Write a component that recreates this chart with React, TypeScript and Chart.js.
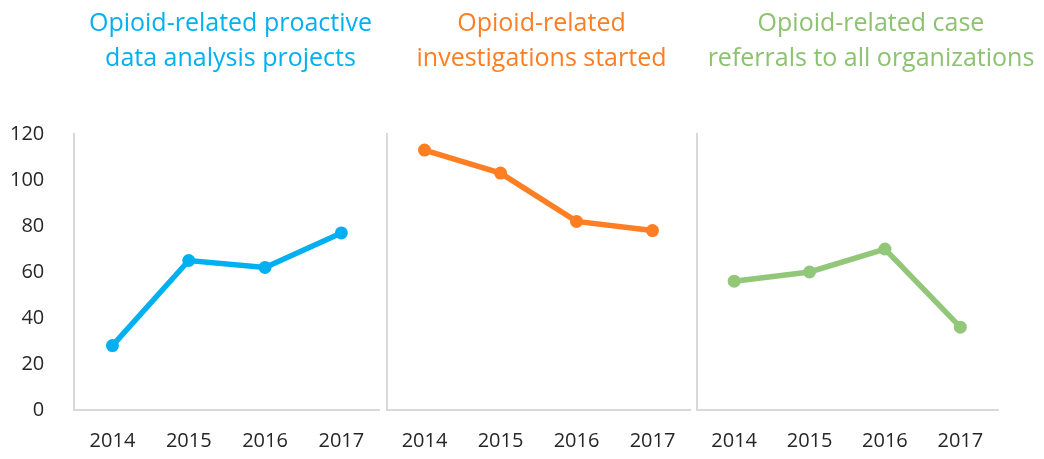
import React, { useEffect, useRef } from "react";
import { Chart, registerables } from "chart.js";

Chart.register(...registerables);

const years = ["2014", "2015", "2016", "2017"];
const proactiveProjects = [28, 65, 62, 77];
const investigationsStarted = [113, 103, 82, 78];
const caseReferrals = [56, 60, 70, 36];
const yMin = 0;
const yMax = 120;
const yStep = 20;

const titleProactive = ["Opioid-related proactive", "data analysis projects"];
const titleInvestigations = ["Opioid-related", "investigations started"];
const titleReferrals = ["Opioid-related case", "referrals to all organizations"];

const FONT = "'Open Sans', 'Segoe UI', sans-serif";
const AXIS_GRAY = "#d9d9d9";
const TEXT = "#262626";
const CANVAS_H = 472;

type PanelProps = {
  left: number;
  width: number;
  values: number[];
  color: string;
  showY: boolean;
  padRight: number;
};

function Panel(p: PanelProps) {
  const ref = useRef<HTMLCanvasElement | null>(null);
  useEffect(() => {
    if (!ref.current) return;
    const chart = new Chart(ref.current, {
      type: "line",
      data: {
        labels: years,
        datasets: [
          {
            data: p.values,
            borderColor: p.color,
            backgroundColor: p.color,
            borderWidth: 5.5,
            pointRadius: 6.5,
            pointBorderWidth: 0,
            pointBackgroundColor: p.color,
            tension: 0,
          },
        ],
      },
      options: {
        responsive: false,
        animation: false,
        layout: { padding: { left: 0, right: p.padRight, bottom: 0, top: 134 } },
        plugins: {
          legend: { display: false },
          tooltip: { enabled: false },
          title: { display: false },
        },
        scales: {
          x: {
            type: "category",
            offset: true,
            grid: { display: false, drawTicks: false },
            border: { display: true, color: AXIS_GRAY, width: 2 },
            ticks: {
              color: TEXT,
              font: { family: FONT, size: 20 },
              padding: 19,
              maxRotation: 0,
              autoSkip: false,
            },
          },
          y: {
            min: yMin,
            max: yMax,
            grid: { display: false, drawTicks: false },
            border: { display: true, color: AXIS_GRAY, width: 2 },
            ticks: {
              display: p.showY,
              stepSize: yStep,
              color: TEXT,
              font: { family: FONT, size: 20 },
              padding: 30,
            },
          },
        },
      },
    });
    return () => chart.destroy();
  }, []);
  return (
    <canvas
      ref={ref}
      width={p.width}
      height={CANVAS_H}
      style={{ position: "absolute", left: p.left, top: 0, width: p.width, height: CANVAS_H }}
    />
  );
}

function Title({ center, lines, color }: { center: number; lines: string[]; color: string }) {
  return (
    <div
      style={{
        position: "absolute",
        left: center - 220,
        width: 440,
        top: 4,
        textAlign: "center",
        fontFamily: FONT,
        fontSize: 25,
        lineHeight: "35px",
        color,
        whiteSpace: "nowrap",
      }}
    >
      {lines.map((l, i) => (
        <div key={i}>{l}</div>
      ))}
    </div>
  );
}

export default function App() {
  return (
    <div
      style={{
        position: "fixed",
        left: 0,
        top: 0,
        width: 1044,
        height: 459,
        background: "#ffffff",
        overflow: "hidden",
      }}
    >
      <Panel left={-20} width={406} values={proactiveProjects} color="#00b0f0" showY={true} padRight={0} />
      <Panel left={380} width={317} values={investigationsStarted} color="#fd7e23" showY={false} padRight={0} />
      <Panel left={690} width={354} values={caseReferrals} color="#92c77a" showY={false} padRight={46} />
      <Title center={230.5} lines={titleProactive} color="#00b0f0" />
      <Title center={541.5} lines={titleInvestigations} color="#fd7e23" />
      <Title center={871} lines={titleReferrals} color="#8cc270" />
    </div>
  );
}
